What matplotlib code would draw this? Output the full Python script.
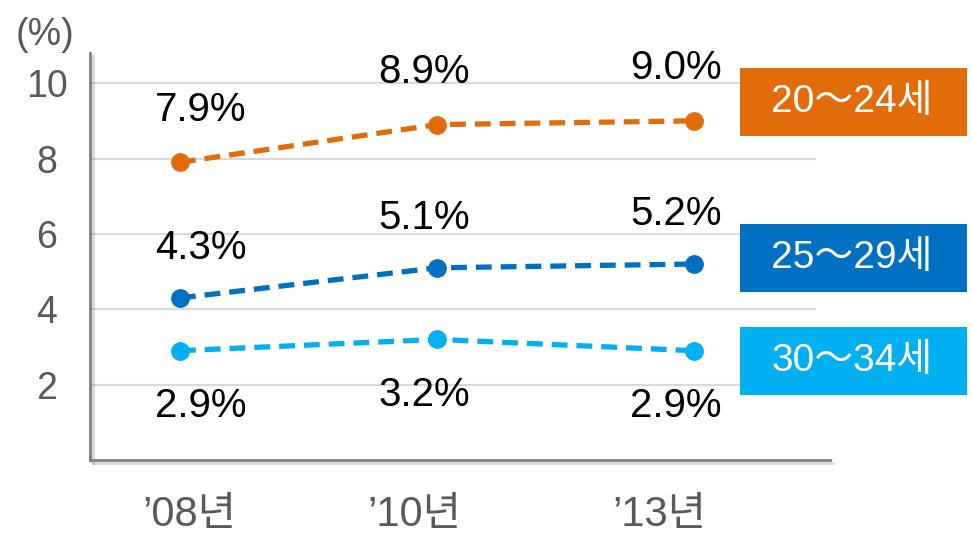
import matplotlib.pyplot as plt
from matplotlib.patches import Rectangle
from matplotlib.transforms import ScaledTranslation
import matplotlib.patheffects as pe

plt.rcParams['font.family'] = ['Liberation Sans', 'Noto Sans CJK KR', 'DejaVu Sans']

# data
years = ["\u201908년", "\u201910년", "\u201913년"]
age_groups = ["20\uff5e24세", "25\uff5e29세", "30\uff5e34세"]
rate_20_24 = [7.9, 8.9, 9.0]
rate_25_29 = [4.3, 5.1, 5.2]
rate_30_34 = [2.9, 3.2, 2.9]
colors = ["#E36C0A", "#0070C0", "#00B0F0"]
y_ticks = [2, 4, 6, 8, 10]

series = [rate_20_24, rate_25_29, rate_30_34]
label_dy = [38, 36, -40]         # value labels above / above / below (points)
label_dx = [15, -9, -13]         # small per-column shifts of value labels
xtick_dx = [7, -16, -25]         # per-column shifts of year labels

fig = plt.figure(figsize=(9.72, 5.33), dpi=100)
W, H = 972, 533
ax = fig.add_axes([90 / W, 1 - 460 / H, 740 / W, 407 / H])

x = list(range(len(years)))
ax.set_xlim(-0.35, 2.529)
ax.set_ylim(0, 10.8)

# gridlines
for t in y_ticks:
    ax.axhline(t, xmin=0, xmax=0.98, color="#D9D9D9", lw=1.5, zorder=1)

for vals, c, dy in zip(series, colors, label_dy):
    ax.plot(x, vals, color=c, lw=3.8, ls=(0, (3.0, 1.7)), marker="o",
            markersize=12.5, zorder=3, solid_capstyle="butt")
    for xi, v, dx in zip(x, vals, label_dx):
        ax.annotate(f"{v:.1f}%", (xi, v), xytext=(dx, dy),
                    textcoords="offset points", ha="center", va="center",
                    fontsize=29, color="black", zorder=4)

ax.set_xticks(x)
ax.set_xticklabels(years, fontsize=30, color="#595959")
ax.set_yticks(y_ticks)
ax.set_yticklabels([str(t) for t in y_ticks], fontsize=27, color="#595959", ha="center")
ax.tick_params(axis="y", length=0, pad=31)
ax.tick_params(axis="x", length=0, pad=25)
for lab, dx in zip(ax.get_xticklabels(), xtick_dx):
    lab.set_transform(lab.get_transform() + ScaledTranslation(dx / 72, 0, fig.dpi_scale_trans))

for s in ["top", "right"]:
    ax.spines[s].set_visible(False)
for s in ["left", "bottom"]:
    ax.spines[s].set_color("#7F7F7F")
    ax.spines[s].set_linewidth(2)
    ax.spines[s].set_path_effects([pe.SimpleLineShadow(offset=(2, -2), alpha=0.15, rho=0.5),
                                   pe.Normal()])

fig.text(45 / W, 1 - 35 / H, "(%)", fontsize=27, color="#595959", ha="center", va="center")

# legend boxes
boxes = [(68, 136), (224, 292), (327, 395)]
for (top, bot), c, name in zip(boxes, colors, age_groups):
    fig.patches.append(Rectangle((740 / W, 1 - bot / H), 227 / W, (bot - top) / H,
                                 transform=fig.transFigure, facecolor=c, edgecolor="none"))
    fig.text(852 / W, 1 - (top + bot) / 2 / H, name, fontsize=28, color="white",
             ha="center", va="center")

fig.savefig("out.png", dpi=100)
